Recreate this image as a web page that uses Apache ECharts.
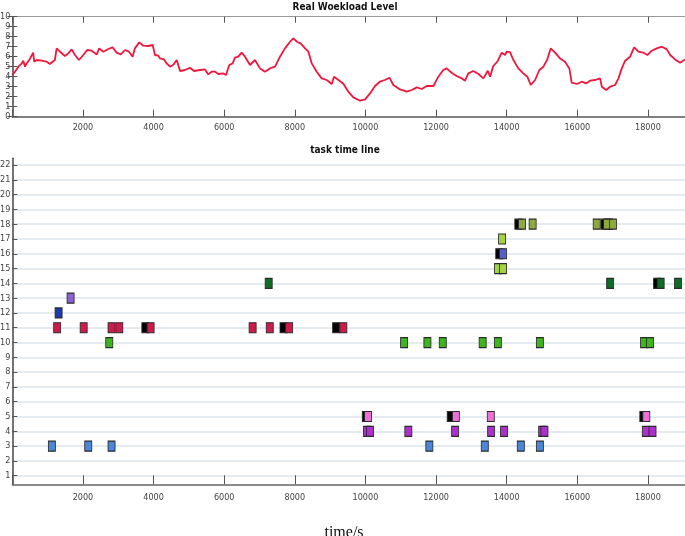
<!DOCTYPE html>
<html><head><meta charset="utf-8">
<script src="https://cdn.jsdelivr.net/npm/echarts@6/dist/echarts.min.js"></script>
<style>html,body{margin:0;padding:0;background:#fff}#c{width:685px;height:536px}</style>
</head><body><div id="c"></div>
<script>
// ---- data ----
const xTickLabels = ['2000','4000','6000','8000','10000','12000','14000','16000','18000'];
const yTaskLabels = ['1','2','3','4','5','6','7','8','9','10','11','12','13','14','15','16','17','18','19','20','21','22'];
const wlTime = [0,75,170,260,310,360,400,500,590,620,690,830,970,1065,1140,1205,1255,1350,1490,1585,1680,1775,1885,2010,2120,2245,2390,2460,2575,2720,2840,2955,3070,3190,3305,3405,3470,3595,3710,3850,3975,4040,4135,4180,4295,4370,4465,4560,4655,4750,4890,5030,5145,5315,5455,5550,5645,5740,5835,5975,6050,6145,6240,6305,6400,6495,6590,6730,6870,7015,7155,7295,7440,7580,7720,7865,7960,8055,8165,8290,8385,8480,8620,8760,8905,9045,9110,9235,9375,9515,9657,9847,9990,10130,10270,10410,10550,10680,10790,10980,11170,11310,11455,11595,11735,11925,12065,12205,12300,12440,12580,12730,12820,12915,13055,13200,13340,13465,13530,13620,13735,13860,13955,14000,14095,14190,14330,14470,14585,14680,14805,14925,15040,15150,15245,15370,15510,15650,15775,15840,15985,16125,16250,16360,16505,16645,16695,16815,16930,17070,17165,17260,17355,17495,17610,17730,17870,17985,18110,18250,18395,18535,18630,18770,18910,19050];
const wlLevel = [4.17,4.5,5.0,5.3,5.6,5.0,5.3,5.8,6.4,5.5,5.67,5.6,5.5,5.27,5.5,5.67,6.83,6.5,6.07,6.33,6.73,6.17,5.67,6.17,6.67,6.6,6.23,6.83,6.5,6.77,6.93,6.4,6.23,6.67,6.5,6.0,6.83,7.43,7.1,7.07,7.17,6.17,6.1,5.83,5.73,5.33,5.0,5.2,5.67,4.57,4.67,4.9,4.57,4.67,4.73,4.23,4.5,4.5,4.27,4.33,4.17,5.17,5.33,5.9,6.0,6.4,6.0,5.17,5.67,4.83,4.5,4.83,5.0,6.0,6.83,7.5,7.83,7.5,7.33,6.83,6.5,5.33,4.5,3.83,3.67,3.27,4.0,3.67,3.3,2.5,1.93,1.6,1.73,2.33,3.07,3.5,3.67,3.9,3.17,2.73,2.5,2.67,2.93,2.77,3.07,3.07,4.0,4.67,4.83,4.4,4.07,3.83,3.6,4.33,4.57,4.27,3.83,4.6,4.0,5.07,5.5,6.4,6.17,6.5,6.45,5.67,4.83,4.33,4.0,3.17,3.67,4.67,5.0,5.73,6.83,6.4,5.83,5.5,4.83,3.4,3.27,3.5,3.33,3.6,3.67,3.83,3.0,2.67,3.0,3.17,3.83,4.83,5.6,6.0,6.93,6.5,6.4,6.17,6.6,6.83,7.0,6.73,6.17,5.73,5.4,5.73];

// task markers [time, task index]
const blackTasks = [[3768,11],[7680,11],[9170,11],[10010,5],[12415,5],[17870,5],[13790,16],[14330,18],[16770,18],[16900,18],[18260,14]];
const redTasks = [[1270,11],[2020,11],[2810,11],[3030,11],[3915,11],[6805,11],[7290,11],[7840,11],[9375,11]];
const blueTasks = [[1120,3],[2150,3],[2810,3],[11810,3],[13380,3],[14400,3],[14940,3]];
const navyTasks = [[1310,12]];
const violetTasks = [[1650,13]];
const greenTasks = [[2745,10],[11095,10],[11755,10],[12190,10],[13320,10],[13750,10],[14940,10],[17890,10],[18060,10]];
const darkGreenTasks = [[7260,14],[16930,14],[18360,14],[18850,14]];
const pinkTasks = [[10075,5],[12560,5],[13550,5],[17955,5]];
const purpleTasks = [[10045,4],[10130,4],[11215,4],[12540,4],[13560,4],[13925,4],[15005,4],[15070,4],[17940,4],[18130,4]];
const limeTasks = [[13870,17],[13755,15],[13895,15]];
const slateTasks = [[13895,16]];
const oliveTasks = [[14435,18],[14735,18],[16550,18],[16845,18],[17010,18]];

// ---- chart ----
const XMAX = 19050;
const narrow = "'Liberation Sans Narrow','DejaVu Sans Condensed',sans-serif";
const L = 12.33;
const chart = echarts.init(document.getElementById('c'), null, {renderer:'canvas'});

function xLabel(v){ return xTickLabels.indexOf(String(v)) >= 0 ? String(v) : ''; }

function taskSeries(data, color){
  return {type:'scatter', xAxisIndex:2, yAxisIndex:2, data:data, symbol:'rect', symbolSize:[7,10], clip:false,
    itemStyle:{color:color, borderColor:'#2a2a2a', borderWidth:1, opacity:1}, emphasis:{disabled:true}, animation:false};
}

chart.setOption({
  animation:false,
  backgroundColor:'#ffffff',
  title:[
    {text:'Real Woekload Level', left:345, top:2, padding:0, textAlign:'center',
     textStyle:{fontFamily:narrow, fontWeight:'bold', fontSize:10, color:'#111'}},
    {text:'task time line', left:345, top:145, padding:0, textAlign:'center',
     textStyle:{fontFamily:narrow, fontWeight:'bold', fontSize:10, color:'#111'}},
    {text:'time/s', left:344, top:525, padding:0, textAlign:'center',
     textStyle:{fontFamily:"'Liberation Serif','DejaVu Serif',serif", fontWeight:'normal', fontSize:16, color:'#111'}}
  ],
  grid:[
    {left:L, right:0, top:16.7, height:100, outerBoundsMode:'none', containLabel:false},
    {left:L, right:0, top:158.3, height:326, outerBoundsMode:'none', containLabel:false},
    {left:L, right:0, top:165, height:310.7, outerBoundsMode:'none', containLabel:false}
  ],
  xAxis:[
    {type:'value', gridIndex:0, min:0, max:XMAX, interval:2000, position:'bottom',
     axisLine:{show:true, onZero:false, lineStyle:{color:'#555', width:1.5}},
     axisTick:{show:true, inside:true, length:7, lineStyle:{color:'#555'}},
     axisLabel:{formatter:xLabel, fontFamily:narrow, fontSize:9, color:'#444', margin:6, showMaxLabel:false},
     splitLine:{show:false}},
    {type:'value', gridIndex:1, min:0, max:XMAX, interval:2000, position:'bottom',
     axisLine:{show:true, onZero:false, lineStyle:{color:'#666', width:1.5}},
     axisTick:{show:true, inside:true, length:9, lineStyle:{color:'#555'}},
     axisLabel:{formatter:xLabel, fontFamily:narrow, fontSize:9, color:'#444', margin:9, showMaxLabel:false},
     splitLine:{show:false}},
    {type:'value', gridIndex:2, min:0, max:XMAX, show:false},
    {type:'value', gridIndex:0, min:0, max:XMAX, interval:2000, position:'top',
     axisLine:{show:true, onZero:false, lineStyle:{color:'#999', width:1}},
     axisTick:{show:true, inside:true, length:6, lineStyle:{color:'#555'}},
     axisLabel:{show:false}, splitLine:{show:false}}
  ],
  yAxis:[
    {type:'value', gridIndex:0, min:0, max:10, interval:1,
     axisLine:{show:true, onZero:false, lineStyle:{color:'#444', width:1.5}},
     axisTick:{show:true, inside:true, length:5, lineStyle:{color:'#555'}},
     axisLabel:{fontFamily:narrow, fontSize:9, color:'#444', margin:2},
     splitLine:{show:false}},
    {type:'value', gridIndex:1, min:0, max:1,
     axisLine:{show:true, onZero:false, lineStyle:{color:'#444', width:1.5}},
     axisTick:{show:false}, axisLabel:{show:false}, splitLine:{show:false}},
    {type:'value', gridIndex:2, min:1, max:22, interval:1,
     axisLine:{show:false},
     axisTick:{show:true, inside:true, length:5, lineStyle:{color:'#555'}},
     axisLabel:{fontFamily:narrow, fontSize:9, color:'#444', margin:2,
       formatter:function(v){ return yTaskLabels.indexOf(String(v))>=0 ? String(v) : ''; }},
     splitLine:{show:true, lineStyle:{color:'#dde5e9', width:1.5}}},
    {type:'value', gridIndex:0, min:0, max:10, interval:1, position:'right',
     axisLine:{show:false}, axisTick:{show:true, inside:true, length:5, lineStyle:{color:'#555'}},
     axisLabel:{show:false}, splitLine:{show:false}}
  ],
  series:[
    {type:'line', xAxisIndex:0, yAxisIndex:0, data:wlTime.map((t,i)=>[t, wlLevel[i]]),
     showSymbol:false, symbol:'none', lineStyle:{color:'#f0173d', width:1.8}, clip:true, animation:false},
    taskSeries(blackTasks, '#000000'),
    taskSeries(redTasks, '#cf1b4b'),
    taskSeries(blueTasks, '#4a87db'),
    taskSeries(navyTasks, '#1c3aa8'),
    taskSeries(violetTasks, '#8a62d4'),
    taskSeries(greenTasks, '#3db61d'),
    taskSeries(darkGreenTasks, '#106b24'),
    taskSeries(pinkTasks, '#ec70d8'),
    taskSeries(purpleTasks, '#ad30cb'),
    taskSeries(limeTasks, '#a3d43e'),
    taskSeries(slateTasks, '#5161c4'),
    taskSeries(oliveTasks, '#8daa3f')
  ]
});
</script></body></html>
